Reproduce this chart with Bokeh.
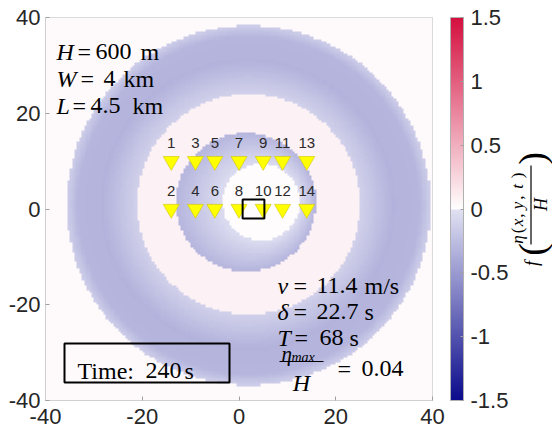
import numpy as np
from bokeh.plotting import figure
from bokeh.layouts import row
from bokeh.models import (LinearColorMapper, ColorBar, FixedTicker, Label,
                          BoxAnnotation, Arrow)
from bokeh.embed import file_html
from bokeh.resources import INLINE
from bokeh.core.properties import value

# ---------------- data ----------------
X_TICKS = [-40, -20, 0, 20, 40]
Y_TICKS = [-40, -20, 0, 20, 40]
CBAR_TICKS = [-1.5, -1, -0.5, 0, 0.5, 1, 1.5]
CBAR_LABELS = ["-1.5", "-1", "-0.5", "0", "0.5", "1", "1.5"]

GAUGE_X = [-14, -9, -5, 0, 5, 9, 14]
GAUGE_Y_TOP = [10, 10, 10, 10, 10, 10, 10]
GAUGE_Y_BOT = [0, 0, 0, 0, 0, 0, 0]
GAUGE_ID_TOP = ["1", "3", "5", "7", "9", "11", "13"]
GAUGE_ID_BOT = ["2", "4", "6", "8", "10", "12", "14"]

SOURCE_LEFT, SOURCE_RIGHT = 0.75, 5.25     # L = 4.5 km
SOURCE_BOTTOM, SOURCE_TOP = -2.0, 2.0      # W = 4 km

# wave-ring boundaries (innermost first): centre x, centre y, radius
RING_CX = [4.6, 1.45, 2.0, 1.8, 2.0, 2.0]
RING_CY = [1.4, 1.4, 1.0, 0.9, 0.8, 0.75]
RING_R = [8.0, 14.5, 23.0, 30.0, 35.2, 37.6]
# field value just inside / just outside each boundary
VAL_INSIDE = [0.02, -0.31, 0.09, -0.33, -0.31, -0.14]
VAL_OUTSIDE = [-0.04, 0.09, -0.12, -0.33, -0.31, 0.03]
OUTER_VAL = 0.03

# ---------------- build field ----------------
n = 160
xc = -40 + (np.arange(n) + 0.5) * 80 / n
XX, YY = np.meshgrid(xc, xc)
D = [np.hypot(XX - cx, YY - cy) - r for cx, cy, r in zip(RING_CX, RING_CY, RING_R)]
Z = np.full(XX.shape, OUTER_VAL)
assigned = np.zeros(XX.shape, bool)
for k in range(len(RING_R)):
    inside = (D[k] < 0) & ~assigned
    if k == 0:
        Z[inside] = VAL_INSIDE[0]
    else:
        s = np.maximum(D[k - 1][inside], 0)
        u = -D[k][inside]
        f = s / (s + u)
        Z[inside] = VAL_OUTSIDE[k - 1] + f * (VAL_INSIDE[k] - VAL_OUTSIDE[k - 1])
    assigned |= inside

# ---------------- colour map ----------------
def hexc(c):
    return "#%02x%02x%02x" % tuple(int(round(v)) for v in c)

NEG_END = np.array([10, 10, 140.0])
NEG_ZERO = np.array([226, 226, 243.0])
POS_ZERO = np.array([255, 255, 255.0])
POS_END = np.array([212, 14, 62.0])
NC = 256
palette = []
for i in range(NC):
    v = -1.5 + (i + 0.5) * 3.0 / NC
    if v < 0:
        t = -v / 1.5
        palette.append(hexc(NEG_ZERO + t * (NEG_END - NEG_ZERO)))
    else:
        t = v / 1.5
        palette.append(hexc(POS_ZERO + t * (POS_END - POS_ZERO)))
mapper = LinearColorMapper(palette=palette, low=-1.5, high=1.5)

TICK_FONT = "Liberation Sans"
SERIF = "Liberation Serif"

# ---------------- main figure ----------------
p = figure(width=450, height=439, x_range=(-40, 40), y_range=(-40, 40),
           output_backend="svg", toolbar_location=None,
           min_border_left=45, min_border_right=18, min_border_top=17,
           min_border_bottom=39)
p.grid.visible = False
p.outline_line_color = "#D0D0D0"
p.background_fill_color = "white"

p.image(image=[Z], x=-40, y=-40, dw=80, dh=80, color_mapper=mapper)

for ax, ticks in ((p.xaxis[0], X_TICKS), (p.yaxis[0], Y_TICKS)):
    ax.ticker = FixedTicker(ticks=ticks)
    ax.major_label_overrides = {t: str(t) for t in ticks}
    ax.major_label_text_font = TICK_FONT
    ax.major_label_text_font_size = "22px"
    ax.major_label_text_color = "#262626"
    ax.axis_line_color = "#D0D0D0"
    ax.major_tick_line_color = "#A0A0A0"
    ax.major_tick_in = 4
    ax.major_tick_out = 0
    ax.minor_tick_line_color = None
p.xaxis.major_label_standoff = 8
p.yaxis.major_label_standoff = 5

# gauges
for ys, ids in ((GAUGE_Y_TOP, GAUGE_ID_TOP), (GAUGE_Y_BOT, GAUGE_ID_BOT)):
    p.scatter(GAUGE_X, ys, marker="inverted_triangle", size=16,
              fill_color="#FFFF00", line_color="#CFC400", line_width=0.6)
    p.text(x=GAUGE_X, y=ys, text=ids, y_offset=-18, text_align="center",
           text_baseline="middle", text_font=value(TICK_FONT),
           text_font_size="15px", text_color="#2a2a2a")

# source box
p.add_layout(BoxAnnotation(left=SOURCE_LEFT, right=SOURCE_RIGHT,
                           bottom=SOURCE_BOTTOM, top=SOURCE_TOP,
                           fill_alpha=0, line_color="black", line_alpha=1,
                           line_width=2))

# ---------------- annotations (page pixel positions) ----------------
F_L, F_R, F_T, F_B = 45, 432, 17, 400
def dx(px):
    return -40 + (px - F_L) * 80 / (F_R - F_L)
def dy(py):
    return 40 - (py - F_T) * 80 / (F_B - F_T)

def tok(text, px, py, size=24, italic=False, align="left"):
    p.add_layout(Label(x=dx(px), y=dy(py), text=text, text_font=SERIF,
                       text_font_size=f"{size}px",
                       text_font_style="italic" if italic else "normal",
                       text_align=align, text_baseline="alphabetic",
                       text_color="black"))

# top-left parameters
tok("H", 56, 51, italic=True); tok("=", 77, 51); tok("600", 95, 51); tok("m", 140, 51)
tok("W", 56, 78, italic=True); tok("=", 80, 78); tok("4", 103, 78); tok("km", 123, 78)
tok("L", 56, 105, italic=True); tok("=", 72, 105); tok("4.5", 90, 105); tok("km", 132, 105)

# bottom-right parameters
tok("v", 277, 285, italic=True); tok("=", 293, 285); tok("11.4", 316, 285); tok("m/s", 364, 285)
tok("δ", 277, 311, italic=True); tok("=", 293, 311); tok("22.7", 316, 311); tok("s", 364, 311)
tok("T", 277, 337, italic=True); tok("=", 294, 337); tok("68", 319, 337); tok("s", 349, 337)
tok("η", 281, 353, size=21, italic=True); tok("max", 291, 357, size=14, italic=True)
p.add_layout(Arrow(end=None, x_start=dx(279), y_start=dy(361), x_end=dx(323),
                   y_end=dy(361), line_width=1.2, line_color="black"))
tok("H", 301, 382, italic=True, align="center")
tok("=", 337, 368); tok("0.04", 361, 368)

# time box
p.add_layout(BoxAnnotation(left=dx(64), right=dx(229), top=dy(343), bottom=dy(382),
                           fill_alpha=0, line_color="black", line_alpha=1,
                           line_width=2))
tok("Time:", 77, 370); tok("240", 145, 370); tok("s", 184, 370)

# ---------------- colour bar panel ----------------
CB_L = 450
q = figure(width=102, height=439, x_range=(0, 102), y_range=(0, 383),
           output_backend="svg", toolbar_location=None,
           x_axis_location=None, y_axis_location=None,
           min_border_left=0, min_border_right=0, min_border_top=17,
           min_border_bottom=39)
q.grid.visible = False
q.outline_line_color = None
q.background_fill_color = "white"

cbar = ColorBar(color_mapper=mapper, ticker=FixedTicker(ticks=CBAR_TICKS),
                major_label_overrides=dict(zip(CBAR_TICKS, CBAR_LABELS)),
                width=13, height=383, padding=0, margin=0, location="top_left",
                label_standoff=7, major_label_text_font=TICK_FONT,
                major_label_text_font_size="22px",
                major_label_text_color="#262626",
                bar_line_color="#B0B0B0", major_tick_line_color="#A0A0A0",
                major_tick_in=3, major_tick_out=0, background_fill_alpha=0,
                border_line_color=None)
q.add_layout(cbar, "center")

def qx(px):
    return px - CB_L
def qy(py):
    return F_B - py

A = np.pi / 2
def rtok(text, px, py, size, italic=True):
    q.text(x=[qx(px)], y=[qy(py)], text=[text], angle=A, text_align="center",
           text_baseline="middle", text_font=value(SERIF),
           text_font_size=f"{size}px",
           text_font_style="italic" if italic else "normal", text_color="black")

# f( eta(x, y, t) / H ), reading bottom to top
rtok("f", 531, 263, 18)
rtok("(", 531, 249, 38, italic=False)
NUM_X = 517
rtok("η", NUM_X, 239, 17)
rtok("(", NUM_X, 230, 17, italic=False)
rtok("x", NUM_X, 222, 17)
rtok(",", NUM_X, 215, 17, italic=False)
rtok("y", NUM_X, 205, 17)
rtok(",", NUM_X, 197, 17, italic=False)
rtok("t", NUM_X, 186, 17)
rtok(")", NUM_X, 175, 17, italic=False)
q.segment(x0=[qx(530.5)], y0=[qy(244)], x1=[qx(530.5)], y1=[qy(165)],
          line_width=1.2, line_color="black")
rtok("H", 540, 204, 18)
rtok(")", 531, 158, 38, italic=False)

open("out.html", "w").write(file_html(row(p, q), INLINE))
